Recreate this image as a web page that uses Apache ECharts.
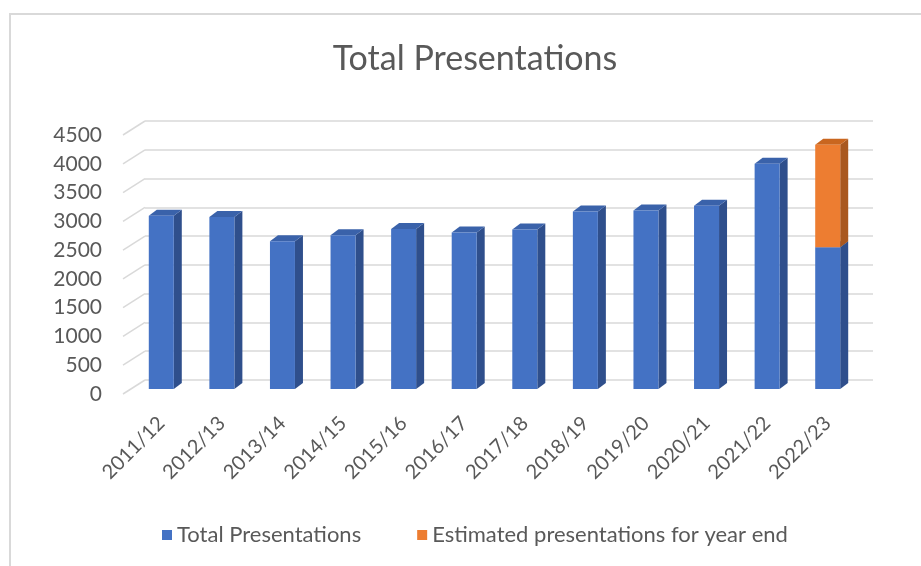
<!DOCTYPE html>
<html>
<head>
<meta charset="utf-8">
<script src="https://cdn.jsdelivr.net/npm/echarts@6/dist/echarts.min.js"></script>
<style>
html,body{margin:0;padding:0;background:#fff;}
#chart{width:921px;height:566px;}
</style>
</head>
<body>
<div id="chart"></div>
<script>
const categories = ['2011/12','2012/13','2013/14','2014/15','2015/16','2016/17','2017/18','2018/19','2019/20','2020/21','2021/22','2022/23'];
const totalPresentations = [3010, 2990, 2565, 2670, 2780, 2720, 2770, 3085, 3100, 3185, 3915, 2462];
const estimatedYearEnd = [null, null, null, null, null, null, null, null, null, null, null, 1783];
const yTicks = [0, 500, 1000, 1500, 2000, 2500, 3000, 3500, 4000, 4500];

const FONT = 'Lato';
const TXT = '#595959';

function bar3d(front, side, top) {
  return function (params, api) {
    const i = api.value(0), v = api.value(1), b = api.value(2);
    const p0 = api.coord([i, b]);
    const p1 = api.coord([i, b + v]);
    const w = 25, dx = 8, dy = -6;
    const xl = p0[0] - w / 2, xr = p0[0] + w / 2;
    const yb = p0[1], yt = p1[1];
    return {
      type: 'group',
      children: [
        { type: 'polygon', shape: { points: [[xr, yt], [xr + dx, yt + dy], [xr + dx, yb + dy], [xr, yb]] }, style: { fill: side } },
        { type: 'polygon', shape: { points: [[xl, yt], [xl + dx, yt + dy], [xr + dx, yt + dy], [xr, yt]] }, style: { fill: top } },
        { type: 'rect', shape: { x: xl, y: yt, width: w, height: yb - yt }, style: { fill: front } }
      ]
    };
  };
}

const chart = echarts.init(document.getElementById('chart'));
chart.setOption({
  backgroundColor: '#fff',
  animation: false,
  graphic: [{
    type: 'rect', shape: { x: 10, y: 14, width: 1000, height: 700 },
    style: { fill: 'none', stroke: '#d9d9d9', lineWidth: 2 }, z: -10
  }],
  title: {
    text: 'Total Presentations', left: 470, top: 37, textAlign: 'center',
    textStyle: { fontFamily: FONT, fontSize: 34, fontWeight: 'normal', color: TXT }
  },
  legend: {
    left: 157, top: 519, icon: 'rect', itemWidth: 10, itemHeight: 10, itemGap: 56,
    data: ['Total Presentations', 'Estimated presentations for year end'],
    textStyle: { fontFamily: FONT, fontSize: 22, color: TXT }
  },
  grid: [
    { left: 145, right: 48, top: 121, bottom: 186 },   // back wall
    { left: 131, right: 63, top: 130, bottom: 177 },   // bar front plane
    { left: 123, right: 70, top: 135, bottom: 172 }    // front edge
  ],
  xAxis: [
    { gridIndex: 0, type: 'category', data: categories, show: false },
    { gridIndex: 1, type: 'category', data: categories,
      axisLine: { show: false }, axisTick: { show: false },
      axisLabel: { rotate: 45, margin: 31, fontFamily: FONT, fontSize: 20, color: TXT, interval: 0 } },
    { gridIndex: 2, type: 'category', data: categories, show: false }
  ],
  yAxis: [
    { gridIndex: 0, type: 'value', min: 0, max: 4500, interval: 500,
      axisLine: { show: false }, axisTick: { show: false }, axisLabel: { show: false },
      splitLine: { show: true, lineStyle: { color: '#d9d9d9', width: 1.5 } } },
    { gridIndex: 1, type: 'value', min: 0, max: 4500, interval: 500, show: false, splitLine: { show: false } },
    { gridIndex: 2, type: 'value', min: 0, max: 4500, interval: 500,
      axisLine: { show: false }, axisTick: { show: false }, splitLine: { show: false },
      axisLabel: { margin: 21, fontFamily: FONT, fontSize: 21, color: TXT, formatter: v => String(v) } }
  ],
  series: [
    {
      type: 'custom', name: 'gridDiagonals', xAxisIndex: 0, yAxisIndex: 0, silent: true,
      data: yTicks.map(v => [0, v]),
      renderItem: function (params, api) {
        const y = api.coord([0, api.value(1)])[1];
        const x0 = params.coordSys.x;
        return { type: 'line', shape: { x1: x0 - 22, y1: y + 14, x2: x0, y2: y }, style: { stroke: '#d9d9d9', lineWidth: 1.5 } };
      }
    },
    {
      type: 'custom', name: 'Total Presentations', xAxisIndex: 1, yAxisIndex: 1,
      itemStyle: { color: '#4472C4' },
      encode: { x: 0, y: 1 },
      data: totalPresentations.map((v, i) => [i, v, 0]),
      renderItem: bar3d('#4472C4', '#2F4F8C', '#3A62AA')
    },
    {
      type: 'custom', name: 'Estimated presentations for year end', xAxisIndex: 1, yAxisIndex: 1,
      itemStyle: { color: '#ED7D31' },
      encode: { x: 0, y: 1 },
      data: estimatedYearEnd.map((v, i) => v == null ? null : [i, v, totalPresentations[i]]).filter(d => d),
      renderItem: bar3d('#ED7D31', '#A9581F', '#C9661F')
    }
  ]
});
</script>
</body>
</html>
